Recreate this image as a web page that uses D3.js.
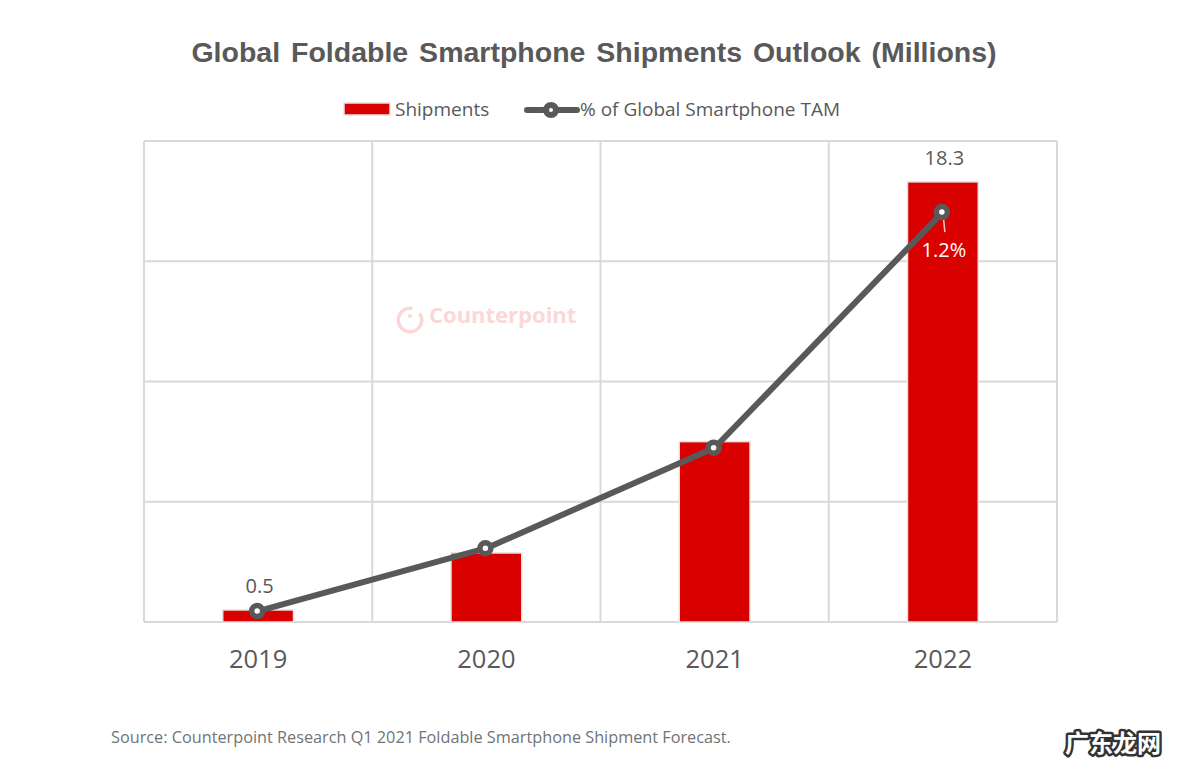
<!DOCTYPE html>
<html lang="en">
<head>
<meta charset="utf-8" />
<title>Global Foldable Smartphone Shipments Outlook</title>
<script src="https://d3js.org/d3.v7.min.js"></script>
<style>
  html, body { margin: 0; padding: 0; background: #fff; }
  svg { display: block; }
  text { font-family: "Open Sans", "Noto Sans", sans-serif; }
</style>
</head>
<body>
<div id="chart"></div>
<script>
const years = ["2019", "2020", "2021", "2022"];
const shipments = [0.5, 2.87, 7.5, 18.3];
const tamShare = [0.032, 0.216, 0.51, 1.2];
const shipmentLabels = ["0.5", "", "", "18.3"];
const shareLabels = ["", "", "", "1.2%"];
const yTicks = [0, 5, 10, 15, 20];

const width = 1199, height = 771;
const plot = { left: 144, right: 1057, top: 141, bottom: 622 };
const red = "#d90000", dark = "#595959", grid = "#d9d9d9";

const svg = d3.select("#chart").append("svg")
  .attr("width", width)
  .attr("height", height);

const x = d3.scaleBand()
  .domain(years)
  .range([plot.left, plot.right])
  .paddingInner(0.69)
  .paddingOuter(0.345);

const y = d3.scaleLinear().domain([0, 20]).range([plot.bottom, plot.top]);
const yShare = d3.scaleLinear().domain([0, 1.408]).range([plot.bottom, plot.top]);
const cx = d => x(d) + x.bandwidth() / 2;
const slot = x.step();

// title
svg.append("text")
  .attr("x", 594).attr("y", 62)
  .attr("text-anchor", "middle")
  .style("font-family", "'Liberation Sans', Arial, sans-serif")
  .style("font-weight", "bold")
  .style("font-size", "28.5px")
  .style("word-spacing", "3px")
  .attr("fill", dark)
  .text("Global Foldable Smartphone Shipments Outlook (Millions)");

// legend
const legend = svg.append("g");
legend.append("rect")
  .attr("x", 344).attr("y", 103).attr("width", 46).attr("height", 12)
  .attr("fill", red).attr("stroke", "#e3e3e3").attr("stroke-width", 1.5);
legend.append("text")
  .attr("x", 395).attr("y", 116)
  .style("font-size", "19px")
  .attr("fill", dark)
  .text("Shipments");
legend.append("line")
  .attr("x1", 527).attr("x2", 577).attr("y1", 110).attr("y2", 110)
  .attr("stroke", dark).attr("stroke-width", 6).attr("stroke-linecap", "round");
legend.append("circle")
  .attr("cx", 551).attr("cy", 110).attr("r", 5)
  .attr("fill", "#fff").attr("stroke", dark).attr("stroke-width", 6);
legend.append("text")
  .attr("x", 580).attr("y", 116)
  .style("font-size", "19px")
  .attr("fill", dark)
  .text("% of Global Smartphone TAM");

// grid
const gridG = svg.append("g").attr("stroke", grid).attr("stroke-width", 2).attr("fill", "none");
gridG.selectAll(".h")
  .data(yTicks)
  .join("line")
  .attr("x1", plot.left).attr("x2", plot.right)
  .attr("y1", d => y(d)).attr("y2", d => y(d));
gridG.selectAll(".v")
  .data(d3.range(years.length + 1))
  .join("line")
  .attr("x1", i => plot.left + i * slot).attr("x2", i => plot.left + i * slot)
  .attr("y1", plot.top).attr("y2", plot.bottom);

// watermark
const mark = svg.append("g").attr("opacity", 0.24);
mark.append("path")
  .attr("transform", "translate(410,320)")
  .attr("d", d3.arc()
    .innerRadius(10)
    .outerRadius(13.5)
    .startAngle(0.95)
    .endAngle(2 * Math.PI + 0.2)())
  .attr("fill", "#f05a5a");
mark.append("circle")
  .attr("cx", 410).attr("cy", 316).attr("r", 2)
  .attr("fill", "#f05a5a");
mark.append("text")
  .attr("x", 429).attr("y", 323)
  .style("font-size", "22px")
  .style("font-weight", "bold")
  .attr("fill", "#f05a5a")
  .text("Counterpoint");

// bars
svg.selectAll(".bar")
  .data(years)
  .join("rect")
  .attr("class", "bar")
  .attr("x", d => x(d))
  .attr("width", x.bandwidth())
  .attr("y", (d, i) => y(shipments[i]))
  .attr("height", (d, i) => plot.bottom - y(shipments[i]))
  .attr("fill", red)
  .attr("stroke", "#e3e3e3")
  .attr("stroke-width", 1.5);

// x axis
const axis = svg.append("g")
  .attr("transform", `translate(0,${plot.bottom})`)
  .call(d3.axisBottom(x).tickSize(0).tickPadding(28));
axis.select(".domain").remove();
axis.selectAll("text")
  .style("font-family", "'Open Sans', sans-serif")
  .style("font-size", "25.5px")
  .attr("fill", dark);

// leader for the 1.2% label
svg.append("line")
  .attr("x1", cx("2022")).attr("y1", yShare(1.2))
  .attr("x2", cx("2022") + 2).attr("y2", yShare(1.2) + 20)
  .attr("stroke", "#f2c9c9").attr("stroke-width", 1.5);

// share line
const line = d3.line()
  .x((d, i) => cx(years[i]))
  .y(d => yShare(d));
svg.append("path")
  .datum(tamShare)
  .attr("d", line)
  .attr("fill", "none")
  .attr("stroke", dark)
  .attr("stroke-width", 6)
  .attr("stroke-linejoin", "round");
svg.selectAll(".pt")
  .data(tamShare)
  .join("circle")
  .attr("class", "pt")
  .attr("cx", (d, i) => cx(years[i]) - 1)
  .attr("cy", d => yShare(d))
  .attr("r", 5.5)
  .attr("fill", "#fff")
  .attr("stroke", dark)
  .attr("stroke-width", 5.5);

// value labels
svg.selectAll(".ship-label")
  .data(shipmentLabels)
  .join("text")
  .attr("class", "ship-label")
  .attr("x", (d, i) => cx(years[i]) + 1.5)
  .attr("y", (d, i) => y(shipments[i]) - 17)
  .attr("text-anchor", "middle")
  .style("font-size", "20px")
  .attr("fill", dark)
  .text(d => d);
svg.selectAll(".share-label")
  .data(shareLabels)
  .join("text")
  .attr("class", "share-label")
  .attr("x", (d, i) => cx(years[i]) + 1)
  .attr("y", (d, i) => yShare(tamShare[i]) + 45)
  .attr("text-anchor", "middle")
  .style("font-size", "20px")
  .attr("fill", "#fff")
  .text(d => d);

// source
svg.append("text")
  .attr("x", 111).attr("y", 743)
  .style("font-size", "16.25px")
  .attr("fill", "#6f7478")
  .text("Source: Counterpoint Research Q1 2021 Foldable Smartphone Shipment Forecast.");

// site stamp
svg.append("text")
  .attr("x", 1113).attr("y", 752)
  .attr("text-anchor", "middle")
  .style("font-family", "'Noto Sans CJK SC', sans-serif")
  .style("font-size", "24px")
  .style("font-weight", "bold")
  .style("paint-order", "stroke")
  .attr("fill", "#fff")
  .attr("stroke", "#333")
  .attr("stroke-width", 5)
  .attr("stroke-linejoin", "round")
  .text("广东龙网");
</script>
</body>
</html>
